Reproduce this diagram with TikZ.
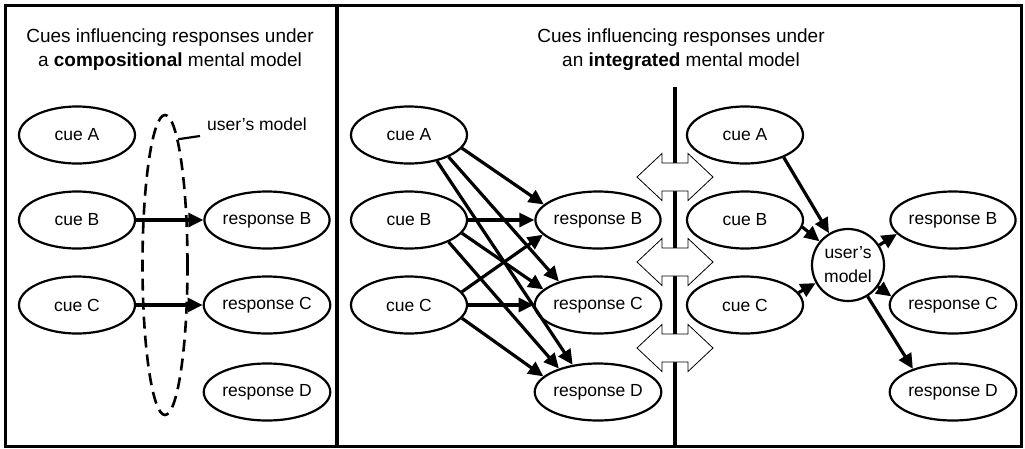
\documentclass[tikz,border=0pt]{standalone}
\usepackage{fontspec}
\setmainfont{Liberation Sans}
\usetikzlibrary{arrows.meta,shapes.geometric}

\tikzset{
	cue/.style={draw,ellipse,line width=2.2pt,minimum width=116pt,minimum height=57pt,inner sep=0pt,font=\fontsize{17.5}{21}\selectfont},
	link/.style={line width=3.2pt,-{Triangle[length=15pt,width=14pt]}},
	heading/.style={align=center,font=\fontsize{19}{24}\selectfont},
	swapper/.style={draw,fill=white,line width=0.8pt,line join=miter}
}

\begin{document}
\begin{tikzpicture}[x=1pt,y=-1pt]
	\useasboundingbox (0,0) rectangle (1025,448);
	\draw[line width=3.2pt] (5.5,5.5) rectangle (1021.5,446.5) (337,5.5) -- (337,446.5);
	\node[heading] (h-l) at (170,50) {Cues influencing responses under\\a \textbf{compositional} mental model};
	\node[heading] (h-r) at (681,50) {Cues influencing responses under\\an \textbf{integrated} mental model};

	\node[draw,ellipse,dash pattern=on 12pt off 7pt,line width=2.6pt,minimum width=45pt,minimum height=300pt,inner sep=0pt] (um) at (165,265) {};
	\node[font=\fontsize{17.5}{21}\selectfont] (um-label) at (257,124) {user's model};
	\coordinate (um-tick) at (200,136);
	\draw[line width=2.2pt] (um-tick) -- (um.84);
	\foreach \c/\y in {A/135,B/220,C/305}
		\node[cue] (l-\c) at (77,\y) {cue \c};
	\foreach \c/\y in {B/220,C/305,D/392}
		\node[cue] (lr-\c) at (267,\y) {response \c};
	\draw[link] (l-B) -- (lr-B);
	\draw[link] (l-C) -- (lr-C);

	\draw[line width=3.2pt] (675,87) -- (675,446.5);
	\foreach \y in {177,262,348}
		\draw[swapper] (637,\y) -- ++(25,-23.5) -- ++(0,9.5) -- ++(26,0) -- ++(0,-9.5) -- ++(25,23.5) -- ++(-25,23.5) -- ++(0,-9.5) -- ++(-26,0) -- ++(0,9.5) -- cycle;
	\foreach \c/\y in {A/135,B/220,C/305}
		\node[cue] (m-\c) at (409,\y) {cue \c};
	\foreach \c/\y in {B/220,C/305,D/392}
		\node[cue] (mr-\c) at (598,\y) {response \c};
	\foreach \s/\i in {A/0,B/1,C/2}
		\foreach \t/\j in {B/1,C/2,D/3}
			{
				\pgfmathtruncatemacro\sa{-14.5*(\j-\i)}
				\pgfmathtruncatemacro\ea{180-15.5*(\j-\i)}
				\draw[link] (m-\s.\sa) -- (mr-\t.\ea);
			}

	\foreach \c/\y in {A/135,B/220,C/305}
		\node[cue] (r-\c) at (745,\y) {cue \c};
	\foreach \c/\y in {B/220,C/305,D/392}
		\node[cue] (rr-\c) at (953,\y) {response \c};
	\node[draw,circle,line width=2.2pt,minimum size=72pt,inner sep=0pt,align=center,font=\fontsize{17.5}{24}\selectfont] (um-r) at (848,265) {user's\\model};
	\draw[link] (r-A.-30) -- (um-r);
	\draw[link] (r-B.-7) -- (um-r);
	\draw[link] (r-C.13) -- (um-r);
	\draw[link] (um-r) -- (rr-B.-166);
	\draw[link] (um-r) -- (rr-C.172);
	\draw[link] (um-r) -- (rr-D.150);
\end{tikzpicture}
\end{document}
